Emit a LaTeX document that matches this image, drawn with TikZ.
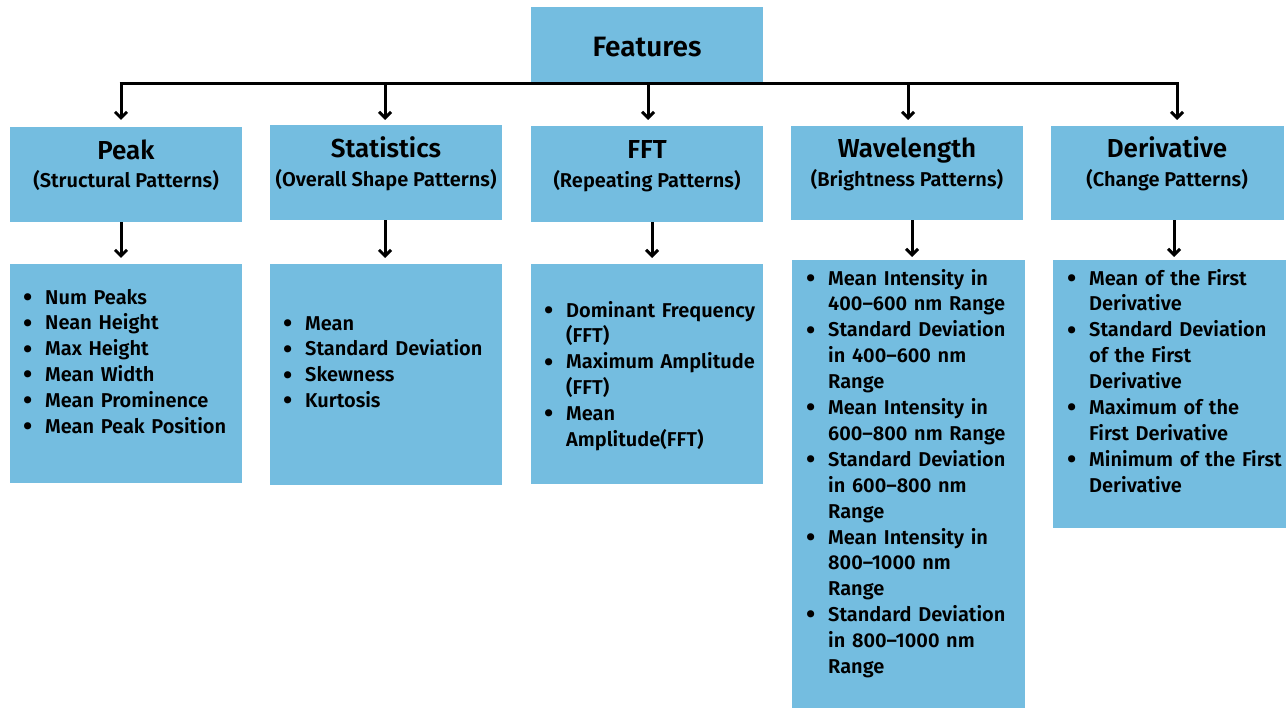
\documentclass[tikz,border=0pt]{standalone}
\usepackage{fontspec}
\setmainfont{Fira Sans}[BoldFont={Fira Sans SemiBold}]
\usetikzlibrary{arrows.meta}
\definecolor{boxblue}{HTML}{74BDE0}
% bullet item with hanging indent; the rule fixes the first baseline
\newcommand{\itm}[1]{\par\hangindent=22pt\hangafter=1\noindent
  \makebox[22pt][l]{\rule{0pt}{20pt}\raisebox{-2.2pt}{\scalebox{1.35}{\textbullet}}}#1\par}
\tikzset{
  box/.style={fill=boxblue, draw=none, anchor=north west, inner sep=0pt},
  wire/.style={line width=3pt, black},
  arr/.style={wire, -{Straight Barb[length=6pt,width=12pt]}},
  ttl/.style={anchor=base, font=\bfseries\fontsize{26}{28}\selectfont, inner sep=0pt},
  sub/.style={anchor=base, font=\bfseries\fontsize{20}{22}\selectfont, inner sep=0pt},
  lst/.style={anchor=north west, inner sep=0pt, text width=240pt, align=left,
    font=\bfseries\fontsize{20}{25.9}\selectfont},
}
\begin{document}
\begin{tikzpicture}[x=1pt,y=-1pt]
\useasboundingbox (0,0) rectangle (1288,708);

% root
\node[box, minimum width=232pt, minimum height=76pt] (feat) at (531,7) {};
\node[ttl, font=\bfseries\fontsize{28}{30}\selectfont] (featT) at (647,57) {Features};

% category headers
\node[box, minimum width=232pt, minimum height=95pt] (peakH) at (10,127) {};
\node[box, minimum width=232pt, minimum height=95pt] (statH) at (270,125) {};
\node[box, minimum width=232pt, minimum height=96pt] (fftH) at (531,126) {};
\node[box, minimum width=232pt, minimum height=94pt] (waveH) at (791,126) {};
\node[box, minimum width=233pt, minimum height=94pt] (derH) at (1051,126) {};

\node[ttl] (peakT) at (126,160) {Peak};
\node[sub] (peakS) at (126,188) {(Structural Patterns)};
\node[ttl] (statT) at (386,158) {Statistics};
\node[sub] (statS) at (386,187) {(Overall Shape Patterns)};
\node[ttl] (fftT) at (647,159) {FFT};
\node[sub] (fftS) at (647,188) {(Repeating Patterns)};
\node[ttl] (waveT) at (907,158) {Wavelength};
\node[sub] (waveS) at (907,187) {(Brightness Patterns)};
\node[ttl] (derT) at (1167,158) {Derivative};
\node[sub] (derS) at (1167,187) {(Change Patterns)};

% detail boxes
\node[box, minimum width=232pt, minimum height=219pt] (peakL) at (10,264) {};
\node[box, minimum width=232pt, minimum height=221pt] (statL) at (270,264) {};
\node[box, minimum width=232pt, minimum height=220pt] (fftL) at (531,264) {};
\node[box, minimum width=233pt, minimum height=448pt] (waveL) at (792,260) {};
\node[box, minimum width=233pt, minimum height=268pt] (derL) at (1053,260) {};

\node[lst] (peakI) at (23,278) {%
  \itm{Num Peaks}\itm{Nean Height}\itm{Max Height}\itm{Mean Width}%
  \itm{Mean Prominence}\itm{Mean Peak Position}};
\node[lst] (statI) at (283,304) {%
  \itm{Mean}\itm{Standard Deviation}\itm{Skewness}\itm{Kurtosis}};
\node[lst] (fftI) at (544,291) {%
  \itm{Dominant Frequency\newline(FFT)}\itm{Maximum Amplitude\newline(FFT)}%
  \itm{Mean\newline Amplitude(FFT)}};
\node[lst] (waveI) at (806,259) {%
  \itm{Mean Intensity in\newline 400--600 nm Range}%
  \itm{Standard Deviation\newline in 400--600 nm\newline Range}%
  \itm{Mean Intensity in\newline 600--800 nm Range}%
  \itm{Standard Deviation\newline in 600--800 nm\newline Range}%
  \itm{Mean Intensity in\newline 800--1000 nm\newline Range}%
  \itm{Standard Deviation\newline in 800--1000 nm\newline Range}};
\node[lst] (derI) at (1067,259) {%
  \itm{Mean of the First\newline Derivative}%
  \itm{Standard Deviation\newline of the First\newline Derivative}%
  \itm{Maximum of the\newline First Derivative}%
  \itm{Minimum of the First\newline Derivative}};

% bus from the root
\coordinate (b1) at (121,84);
\coordinate (b2) at (385,84);
\coordinate (b3) at (648,84);
\coordinate (b4) at (908,84);
\coordinate (b5) at (1177,84);
\draw[wire] ([xshift=-1.5pt]b1) -- ([xshift=1.5pt]b5);
\draw[arr, shorten >=7pt] (b1) -- (b1 |- peakH.north);
\draw[arr, shorten >=5pt] (b2) -- (b2 |- statH.north);
\draw[arr, shorten >=6pt] (b3) -- (b3 |- fftH.north);
\draw[arr, shorten >=6pt] (b4) -- (b4 |- waveH.north);
\draw[arr, shorten >=6pt] (b5) -- (b5 |- derH.north);

% headers to detail boxes
\coordinate (c1) at (121,0);
\coordinate (c2) at (385,0);
\coordinate (c3) at (652,0);
\coordinate (c4) at (912,0);
\coordinate (c5) at (1174,0);
\draw[arr, shorten >=6pt] (c1 |- peakH.south) -- (c1 |- peakL.north);
\draw[arr, shorten >=6pt] (c2 |- statH.south) -- (c2 |- statL.north);
\draw[arr, shorten >=6pt] (c3 |- fftH.south) -- (c3 |- fftL.north);
\draw[arr, shorten >=3pt] (c4 |- waveH.south) -- (c4 |- waveL.north);
\draw[arr, shorten >=3pt] (c5 |- derH.south) -- (c5 |- derL.north);
\end{tikzpicture}
\end{document}
